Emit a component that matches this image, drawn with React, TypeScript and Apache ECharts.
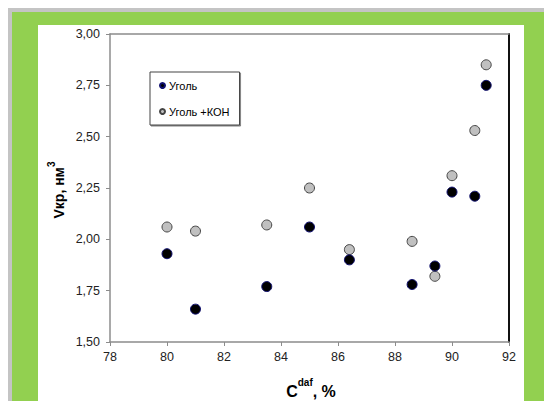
import React, { useEffect, useRef } from "react";
import * as echarts from "echarts";

const carbon = [80, 81, 83.5, 85, 86.4, 88.6, 89.4, 90, 90.8, 91.2];
const coal = [1.93, 1.66, 1.77, 2.06, 1.9, 1.78, 1.87, 2.23, 2.21, 2.75];
const coalKOH = [2.06, 2.04, 2.07, 2.25, 1.95, 1.99, 1.82, 2.31, 2.53, 2.85];
const seriesNames = ["Уголь", "Уголь +КОН"];

export default function App() {
  const ref = useRef<HTMLDivElement>(null);
  useEffect(() => {
    if (!ref.current) return;
    const chart = echarts.init(ref.current, null, { renderer: "svg" });
    const font = "'Liberation Sans', Arial, sans-serif";
    chart.setOption({
      animation: false,
      backgroundColor: "#ffffff",
      textStyle: { fontFamily: font },
      graphic: [
        { type: "rect", z: -10, shape: { x: 8, y: 8, width: 600, height: 500 }, style: { fill: "#c4c4c4" } },
        { type: "rect", z: -9, shape: { x: 12, y: 12, width: 600, height: 500 }, style: { fill: "#92d050" } },
        { type: "rect", z: -8, shape: { x: 38, y: 25, width: 486, height: 500 }, style: { fill: "#ffffff" } },
        {
          type: "text",
          x: 56,
          y: 190,
          rotation: Math.PI / 2,
          style: {
            text: "{a|Vкр, нм}{s|3}",
            align: "center",
            verticalAlign: "middle",
            fill: "#000",
            rich: {
              a: { fontSize: 14, fontWeight: "bold", fontFamily: font, fill: "#000", lineHeight: 20, verticalAlign: "bottom" },
              s: { fontSize: 10, fontWeight: "bold", fontFamily: font, fill: "#000", lineHeight: 20, verticalAlign: "top" },
            },
          },
        },
        {
          type: "text",
          x: 311,
          y: 388,
          style: {
            text: "{a|C}{s|daf}{a|, %}",
            align: "center",
            verticalAlign: "middle",
            fill: "#000",
            rich: {
              a: { fontSize: 16, fontWeight: "bold", fontFamily: font, fill: "#000", lineHeight: 22, verticalAlign: "bottom" },
              s: { fontSize: 10, fontWeight: "bold", fontFamily: font, fill: "#000", lineHeight: 22, verticalAlign: "top" },
            },
          },
        },
      ],
      legend: {
        data: seriesNames,
        orient: "vertical",
        left: 150,
        top: 72,
        padding: [8, 10, 8, 9],
        itemGap: 15,
        itemWidth: 5,
        itemHeight: 5,
        backgroundColor: "#fff",
        borderColor: "#444",
        borderWidth: 1,
        borderRadius: 0,
        shadowColor: "rgba(0,0,0,0.5)",
        shadowOffsetX: 1,
        shadowOffsetY: 1,
        textStyle: { fontSize: 11, color: "#000", fontFamily: font, padding: [0, 0, 0, -1] },
      },
      grid: { left: 110, right: 35, top: 34, bottom: 59 },
      xAxis: [
        {
          type: "value",
          min: 78,
          max: 92,
          interval: 2,
          axisLine: { show: true, onZero: false, lineStyle: { color: "#8c8c8c", width: 1.5 } },
          axisTick: { show: true, length: 4, lineStyle: { color: "#8c8c8c" } },
          axisLabel: { fontSize: 12.5, color: "#222", margin: 8, fontFamily: font },
          splitLine: { show: false },
        },
        {
          type: "value",
          position: "top",
          min: 78,
          max: 92,
          axisLine: { show: true, onZero: false, lineStyle: { color: "#8c8c8c", width: 1.5 } },
          axisTick: { show: false },
          axisLabel: { show: false },
          splitLine: { show: false },
        },
      ],
      yAxis: [
        {
          type: "value",
          min: 1.5,
          max: 3,
          interval: 0.25,
          axisLine: { show: true, onZero: false, lineStyle: { color: "#8c8c8c", width: 1.5 } },
          axisTick: { show: true, length: 4, lineStyle: { color: "#8c8c8c" } },
          axisLabel: {
            fontSize: 12.5,
            color: "#222",
            margin: 10,
            fontFamily: font,
            formatter: (v: number) => v.toFixed(2).replace(".", ","),
          },
          splitLine: { show: false },
        },
        {
          type: "value",
          position: "right",
          min: 1.5,
          max: 3,
          axisLine: { show: true, onZero: false, lineStyle: { color: "#111", width: 2 } },
          axisTick: { show: false },
          axisLabel: { show: false },
          splitLine: { show: false },
        },
      ],
      series: [
        {
          name: seriesNames[0],
          type: "scatter",
          z: 4,
          symbol: "circle",
          symbolSize: 10,
          itemStyle: { color: "#000000", borderColor: "#101070", borderWidth: 1, opacity: 1 },
          data: carbon.map((c, i) => [c, coal[i]]),
        },
        {
          name: seriesNames[1],
          type: "scatter",
          z: 3,
          symbol: "circle",
          symbolSize: 10,
          itemStyle: { color: "#c0c0c0", borderColor: "#444", borderWidth: 1, opacity: 1 },
          data: carbon.map((c, i) => [c, coalKOH[i]]),
        },
      ],
    });
    return () => chart.dispose();
  }, []);
  return (
    <div
      ref={ref}
      style={{ position: "fixed", left: 0, top: 0, width: 544, height: 401 }}
    />
  );
}
